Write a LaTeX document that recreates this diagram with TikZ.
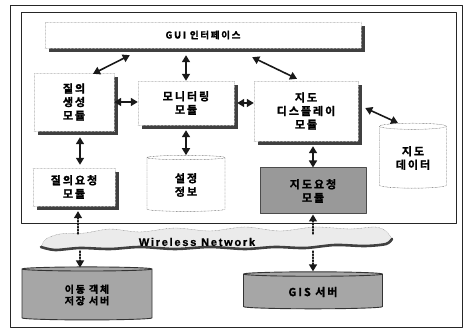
\documentclass[tikz,border=0pt]{standalone}
\usepackage{fontspec}
\newfontfamily\kr{Noto Sans CJK KR}[BoldFont={Noto Sans CJK KR Bold},
  BoldFeatures={FakeBold=1.6},LetterSpace=18]
\newfontfamily\en{Liberation Sans}[BoldFeatures={FakeBold=1},LetterSpace=16]
\usetikzlibrary{shapes.geometric,shadows,arrows.meta,calc}
\tikzstyle{every node}=[font=\kr\bfseries\fontsize{11}{13.5}\selectfont]
\tikzstyle{every path}=[line cap=round,line join=round]
\tikzset{
  module/.style={draw=black!25,densely dotted,fill=white,align=center,
    drop shadow={shadow xshift=4pt,shadow yshift=-4pt,fill=black!75,opacity=1}},
  mapreq/.style={draw=black!70,line width=1pt,fill=black!40,align=center},
  store/.style={cylinder,shape border rotate=90,aspect=0.15,draw=black!70,
    densely dotted,align=center},
  server/.style={store,aspect=0.08,solid,fill=black!35,draw=black!80,line width=0.9pt},
  link/.style={{Triangle[width=8pt,length=7pt]}-{Triangle[width=8pt,length=7pt]},
    line width=1.6pt,black!90},
  radio/.style={-{Triangle[width=8pt,length=7pt]},line width=1.3pt,
    dash pattern=on 1.5pt off 1.5pt,black!90}
}
\begin{document}
\begin{tikzpicture}[x=1pt,y=-1pt]
  \useasboundingbox (0,0) rectangle (464,328);
  % frames
  \draw[line width=0.9pt,black!85] (10,5) rectangle (462,327);
  \draw[line width=1pt,black!85] (21,13) rectangle (456,224);

  % wireless network
  \fill[black!8] plot[smooth] coordinates {(41,247) (46,239) (60,234) (85,233) (110,229)
    (140,232) (175,228) (210,231) (245,227) (280,231) (315,227) (350,229) (375,227)
    (386,231) (392,239)}
    -- plot[smooth] coordinates {(392,239) (386,244) (365,246) (335,245) (305,248)
    (275,247) (245,249) (210,247) (175,249) (140,247) (110,249) (80,248) (55,250)
    (41,247)} -- cycle;
  \draw[black!50,densely dotted] plot[smooth] coordinates {(41,247) (46,239) (60,234)
    (85,233) (110,229) (140,232) (175,228) (210,231) (245,227) (280,231) (315,227)
    (350,229) (375,227) (386,231) (392,239)};
  \draw[black!75,line width=2.6pt] plot[smooth] coordinates {(392,239) (386,244)
    (365,246) (335,245) (305,248) (275,247) (245,249) (210,247) (175,249) (140,247)
    (110,249) (80,248) (55,250) (41,247)};
  \coordinate (nettop) at (0,234);
  \coordinate (netbot) at (0,251);
  \node[font=\en\bfseries\fontsize{11}{13}\selectfont] (net) at (197,242) {Wireless Network};

  % modules
  \node[module,minimum width=316pt,minimum height=26pt,
    font=\kr\bfseries\fontsize{9.5}{11}\selectfont] (gui) at (203,35) {GUI 인터페이스};
  \node[module,minimum width=80pt,minimum height=58pt] (gen) at (74,102) {질의\\생성\\모듈};
  \node[module,minimum width=96pt,minimum height=44pt] (mon) at (186,103) {모니터링\\모듈};
  \node[module,minimum width=104pt,minimum height=60pt] (disp) at (306,111) {지도\\디스플레이\\모듈};
  \node[module,minimum width=82pt,minimum height=38pt] (req) at (74,187) {질의요청\\모듈};
  \node[mapreq,minimum width=106pt,minimum height=46pt] (mreq) at (313,191) {지도요청\\모듈};

  % storages
  \node[store,minimum width=67pt,minimum height=65pt] (map) at (413,158) {지도\\데이터};
  \node[store,minimum width=78pt,minimum height=56pt] (conf) at (186,185) {설정\\정보};
  \node[server,minimum width=130pt,minimum height=53pt,
    font=\kr\bfseries\fontsize{10}{11.5}\selectfont] (mob) at (87,295) {이동 객체\\저장 서버};
  \node[server,minimum width=139pt,minimum height=37pt] (gis) at (313,292) {GIS 서버};

  % links
  \draw[link] ($(gui.south west)+(85,7)$) -- ($(gen.north)+(19,1)$);
  \draw[link] ($(gui.south -| mon.north)+(0,7)$) -- (mon.north);
  \draw[link] ($(gui.south east)+(-109,9)$) -- ($(disp.north)+(-9,-2)$);
  \draw[link] (gen.east) -- (gen.east -| mon.west);
  \draw[link] ($(mon.east)+(3,0)$) -- (mon.east -| disp.west);
  \draw[link] ($(disp.east)+(7,-3)$) -- ($(map.north)+(-15,0)$);
  \draw[link] ($(gen.south)+(6,6)$) -- ($(req.north)+(6,-3)$);
  \draw[link] ($(mon.south)+(0,5)$) -- (conf.north);
  \draw[link] ($(disp.south)+(7,5)$) -- (mreq.north);

  % network
  \draw[radio] ($(req.south |- nettop)+(4,0)$) -- ($(req.south)+(4,5)$);
  \draw[radio] ($(mob.north |- netbot)+(-7,0)$) -- ($(mob.north)+(-7,1)$);
  \draw[radio] (mreq.south |- nettop) -- (mreq.south);
  \draw[radio] (gis.north |- netbot) -- (gis.north);
\end{tikzpicture}
\end{document}
